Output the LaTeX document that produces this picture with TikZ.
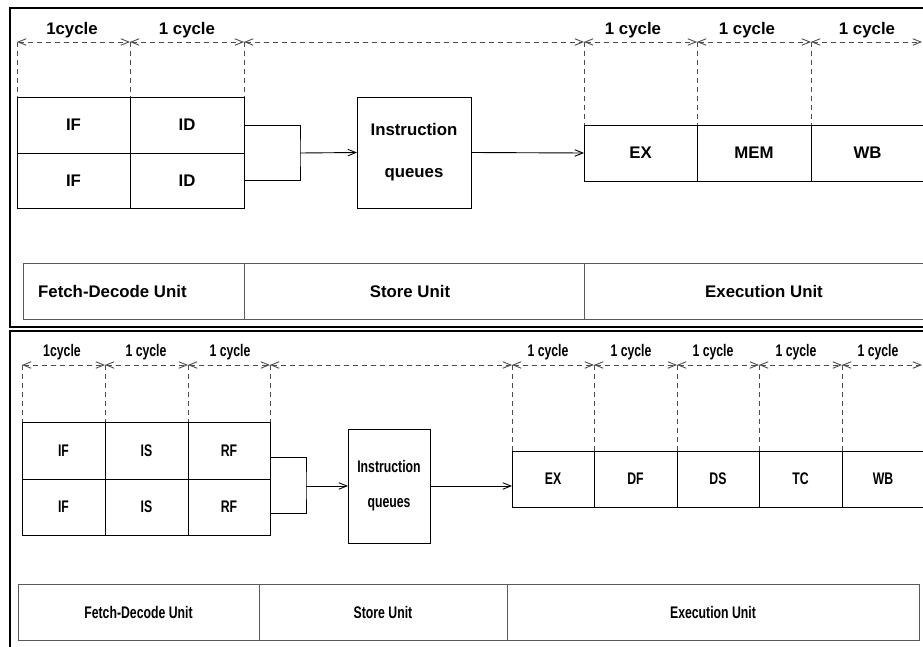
\documentclass[tikz,border=0pt]{standalone}
\usepackage{fontspec}
\setmainfont{Liberation Sans}
\newfontfamily\narrowf{Liberation Sans}[FakeStretch=0.73]
\usetikzlibrary{arrows.meta,calc}
\begin{document}
\begin{tikzpicture}[x=1pt,y=-1pt,
  panel/.style={line width=2.4pt, draw=black},
  tfont/.style={font=\fontsize{16.8}{20}\selectfont\bfseries},
  bfont/.style={font=\narrowf\fontsize{16.8}{20}\selectfont\bfseries},
  cell/.style={draw=black, line width=0.9pt, inner sep=0pt, outer sep=0pt},
  ucell/.style={draw=black!65, line width=1pt, inner sep=0pt, outer sep=0pt},
  conn/.style={draw=black, line width=0.9pt},
  arr/.style={conn, -{Straight Barb[length=8pt,width=6.5pt]}},
  dsh/.style={draw=black!70, line width=0.9pt, dash pattern=on 5pt off 4pt},
  dsharr/.style={dsh, {Straight Barb[length=8pt,width=6.5pt]}-{Straight Barb[length=8pt,width=6.5pt]}},
  lbl/.style={inner sep=0pt}
]
\useasboundingbox (0,0) rectangle (923,647);
\clip (0,0) rectangle (923,647);
\fill[white] (0,0) rectangle (923,647);

% ================= TOP PANEL =================
\draw[panel] (10,8) rectangle (940,327);

% timeline
\foreach \n/\x in {t0/17,t1/130,t2/244,t3/584,t4/697,t5/811,t6/922}
  \coordinate (\n) at (\x,42);
\draw[dsharr] (t0) -- (t1);
\draw[dsharr] (t1) -- (t2);
\draw[dsharr] (t2) -- (t3);
\draw[dsharr] (t3) -- (t4);
\draw[dsharr] (t4) -- (t5);
\draw[dsharr] (t5) -- (t6);
\node[tfont,lbl] (c1) at (72,30) {1cycle};
\node[tfont,lbl] (c2) at (187,30) {1 cycle};
\node[tfont,lbl] (c3) at (633,30) {1 cycle};
\node[tfont,lbl] (c4) at (747,30) {1 cycle};
\node[tfont,lbl] (c5) at (867,30) {1 cycle};

% fetch/decode cells
\node[cell,tfont,minimum width=113pt,minimum height=56pt] (if1) at (73.5,125) {IF};
\node[cell,tfont,minimum width=114pt,minimum height=56pt] (id1) at (187,125) {ID};
\node[cell,tfont,minimum width=113pt,minimum height=55pt] (if2) at (73.5,180.5) {IF};
\node[cell,tfont,minimum width=114pt,minimum height=55pt] (id2) at (187,180.5) {ID};

\draw[dsh] (t0) -- (if1.north west);
\draw[dsh] (t1) -- (if1.north east);
\draw[dsh] (t2) -- (id1.north east);

% queue
\node[cell,tfont,minimum width=114pt,minimum height=111pt,align=center] (q1) at (414,152.5) {Instruction\\[22pt]queues};
\coordinate (j1) at (300,153);
\draw[conn] (id1.east) -| (j1) |- (id2.east);
\draw[arr] (j1) -- (q1.west);

% execution cells
\node[cell,tfont,minimum width=113pt,minimum height=56pt] (ex1) at (640.5,153) {EX};
\node[cell,tfont,minimum width=114pt,minimum height=56pt] (mem1) at (754,153) {MEM};
\node[cell,tfont,minimum width=113pt,minimum height=56pt] (wb1) at (867.5,153) {WB};
\draw[arr] (q1.east) -- (ex1.west);
\draw[dsh] (t3) -- (ex1.north west);
\draw[dsh] (t4) -- (mem1.north west);
\draw[dsh] (t5) -- (wb1.north west);

% units table
\node[ucell,minimum width=221pt,minimum height=56pt] (fd1) at (133.5,291) {};
\node[ucell,minimum width=340pt,minimum height=56pt] (su1) at (414,291) {};
\node[ucell,minimum width=360pt,minimum height=56pt] (eu1) at (764,291) {};
\node[tfont,lbl,anchor=west] (fdt1) at (38,291) {Fetch-Decode Unit};
\node[tfont,lbl] (sut1) at (410,291) {Store Unit};
\node[tfont,lbl] (eut1) at (764,291) {Execution Unit};

% ================= BOTTOM PANEL =================
\draw[panel] (10,331) rectangle (940,660);

\foreach \n/\x in {s0/22,s1/105,s2/188,s3/270,s4/512,s5/594,s6/677,s7/759,s8/842,s9/922}
  \coordinate (\n) at (\x,365);
\draw[dsharr] (s0) -- (s1);
\draw[dsharr] (s1) -- (s2);
\draw[dsharr] (s2) -- (s3);
\draw[dsharr] (s3) -- (s4);
\draw[dsharr] (s4) -- (s5);
\draw[dsharr] (s5) -- (s6);
\draw[dsharr] (s6) -- (s7);
\draw[dsharr] (s7) -- (s8);
\draw[dsharr] (s8) -- (s9);
\node[bfont,lbl] (d1) at (62,352) {1cycle};
\node[bfont,lbl] (d2) at (146,352) {1 cycle};
\node[bfont,lbl] (d3) at (230,352) {1 cycle};
\node[bfont,lbl] (d4) at (548,352) {1 cycle};
\node[bfont,lbl] (d5) at (631,352) {1 cycle};
\node[bfont,lbl] (d6) at (713,352) {1 cycle};
\node[bfont,lbl] (d7) at (796,352) {1 cycle};
\node[bfont,lbl] (d8) at (878,352) {1 cycle};

\node[cell,bfont,minimum width=83pt,minimum height=57pt] (if3) at (63.5,450.5) {IF};
\node[cell,bfont,minimum width=83pt,minimum height=57pt] (is3) at (146.5,450.5) {IS};
\node[cell,bfont,minimum width=82pt,minimum height=57pt] (rf3) at (229,450.5) {RF};
\node[cell,bfont,minimum width=83pt,minimum height=56pt] (if4) at (63.5,507) {IF};
\node[cell,bfont,minimum width=83pt,minimum height=56pt] (is4) at (146.5,507) {IS};
\node[cell,bfont,minimum width=82pt,minimum height=56pt] (rf4) at (229,507) {RF};

\draw[dsh] (s0) -- (if3.north west);
\draw[dsh] (s1) -- (is3.north west);
\draw[dsh] (s2) -- (rf3.north west);
\draw[dsh] (s3) -- (rf3.north east);

\node[cell,bfont,minimum width=82pt,minimum height=114pt,align=center] (q2) at (389,486) {Instruction\\[15pt]queues};
\coordinate (b1) at ($(rf3.north east)!0.62!(rf3.south east)$);
\coordinate (b2) at ($(rf4.north east)!0.62!(rf4.south east)$);
\coordinate (j2) at (306,486);
\draw[conn] (b1) -| (j2) |- (b2);
\draw[arr] (j2) -- (q2.west);

\node[cell,bfont,minimum width=82pt,minimum height=56pt] (ex2) at (553,479) {EX};
\node[cell,bfont,minimum width=83pt,minimum height=56pt] (df2) at (635.5,479) {DF};
\node[cell,bfont,minimum width=82pt,minimum height=56pt] (ds2) at (718,479) {DS};
\node[cell,bfont,minimum width=83pt,minimum height=56pt] (tc2) at (800.5,479) {TC};
\node[cell,bfont,minimum width=82pt,minimum height=56pt] (wb2) at (883,479) {WB};
\draw[arr] (q2.east) -- (q2.east -| ex2.west);
\draw[dsh] (s4) -- (ex2.north west);
\draw[dsh] (s5) -- (df2.north west);
\draw[dsh] (s6) -- (ds2.north west);
\draw[dsh] (s7) -- (tc2.north west);
\draw[dsh] (s8) -- (wb2.north west);

\node[ucell,bfont,minimum width=241pt,minimum height=56pt] (fd2) at (138.5,612) {Fetch-Decode Unit};
\node[ucell,bfont,minimum width=248pt,minimum height=56pt] (su2) at (383,612) {Store Unit};
\node[ucell,bfont,minimum width=412pt,minimum height=56pt] (eu2) at (713,612) {Execution Unit};
\end{tikzpicture}
\end{document}
